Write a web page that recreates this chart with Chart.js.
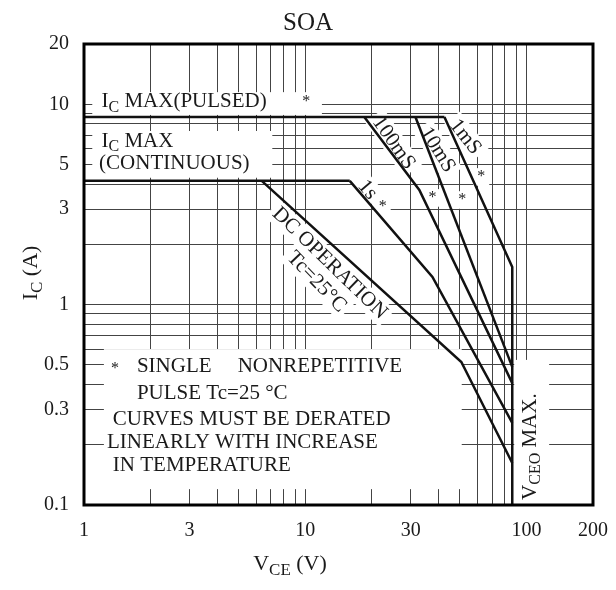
<!DOCTYPE html>
<html>
<head>
<meta charset="utf-8">
<script src="https://cdn.jsdelivr.net/npm/chart.js@4.4.0/dist/chart.umd.min.js"></script>
<style>
  html, body { margin: 0; padding: 0; background: #fff; }
</style>
</head>
<body>
<canvas id="soaChart" width="616" height="590"></canvas>
<script>
// grid and tick labels (log-log)
const xGrid = [1, 2, 3, 4, 5, 6, 7, 8, 9, 10, 20, 30, 40, 50, 60, 70, 80, 90, 100, 200];
const xLabels = [1, 3, 10, 30, 100, 200];
const yGrid = [0.1, 0.2, 0.3, 0.4, 0.5, 0.6, 0.7, 0.8, 0.9, 1, 2, 3, 4, 5, 6, 7, 8, 9, 10, 20];
const yLabels = [0.1, 0.3, 0.5, 1, 3, 5, 10, 20];

// SOA boundaries, VCE (V) / IC (A)
const icPulsedV = [1, 42.6];
const icPulsedA = [8.65, 8.65];
const icContV = [1, 15.9];
const icContA = [4.15, 4.15];
const dcV = [6.36, 50.8, 86.3];
const dcA = [4.15, 0.517, 0.162];
const s1V = [15.9, 37.6, 86.3];
const s1A = [4.15, 1.375, 0.257];
const ms100V = [18.5, 32.8, 86.3];
const ms100A = [8.65, 3.74, 0.406];
const ms10V = [31.5, 86.3];
const ms10A = [8.65, 0.489];
const ms1V = [42.6, 86.3, 86.3];
const ms1A = [8.65, 1.54, 0.1];

const FONT = '"Liberation Serif", "Times New Roman", serif';
const INK = "#1a1a1a";

const toPts = (xs, ys) => xs.map((x, i) => ({ x: x, y: ys[i] }));
const curve = (xs, ys) => ({
  data: toPts(xs, ys),
  borderColor: "#111",
  borderWidth: 2.5,
  pointRadius: 0,
  fill: false,
  tension: 0,
});

// text drawn with optional subscripts: parts = [[text, isSub], ...]
function richWidth(ctx, parts, size) {
  let w = 0;
  parts.forEach(([t, sub]) => {
    ctx.font = (sub ? Math.round(size * 0.75) : size) + "px " + FONT;
    w += ctx.measureText(t).width;
  });
  return w;
}
function drawRich(ctx, parts, x, y, size, align) {
  const total = richWidth(ctx, parts, size);
  let cx = align === "center" ? x - total / 2 : x;
  ctx.textBaseline = "middle";
  ctx.textAlign = "left";
  ctx.fillStyle = INK;
  parts.forEach(([t, sub]) => {
    ctx.font = (sub ? Math.round(size * 0.75) : size) + "px " + FONT;
    ctx.fillText(t, cx, y + (sub ? size * 0.28 : 0));
    cx += ctx.measureText(t).width;
  });
}

// labels inside the plot, anchored in data coordinates
const notes = [
  { parts: [["I"], ["C", 1], [" MAX(PULSED)"]], x: 1.2, y: 10.3 },
  { parts: [["*"]], x: 10.1, y: 10.3, size: 16, align: "center" },
  { parts: [["I"], ["C", 1], [" MAX"]], x: 1.2, y: 6.56 },
  { parts: [["(CONTINUOUS)"]], x: 1.17, y: 5.04 },
  { parts: [["*"]], x: 1.38, y: 0.478, size: 16, align: "center" },
  { parts: [["SINGLE"]], x: 1.735, y: 0.489 },
  { parts: [["NONREPETITIVE"]], x: 4.95, y: 0.489 },
  { parts: [["PULSE Tc=25 °C"]], x: 1.735, y: 0.36 },
  { parts: [["CURVES MUST BE DERATED"]], x: 1.35, y: 0.268 },
  { parts: [["LINEARLY WITH INCREASE"]], x: 1.27, y: 0.206 },
  { parts: [["IN TEMPERATURE"]], x: 1.35, y: 0.157 },
  { parts: [["100mS"]], x: 25.1, y: 6.41, rot: 55, bg: true },
  { parts: [["10mS"]], x: 39.6, y: 5.92, rot: 58, bg: true },
  { parts: [["1mS"]], x: 52.9, y: 6.87, rot: 52, bg: true },
  { parts: [["1s"]], x: 19.1, y: 3.74, rot: 50, bg: true },
  { parts: [["*"]], x: 22.4, y: 3.07, size: 16, align: "center", bg: true },
  { parts: [["*"]], x: 37.6, y: 3.41, size: 16, align: "center", bg: true },
  { parts: [["*"]], x: 51.3, y: 3.33, size: 16, align: "center", bg: true },
  { parts: [["*"]], x: 62.5, y: 4.34, size: 16, align: "center", bg: true },
  { parts: [["DC OPERATION"]], x: 12.9, y: 1.61, rot: 44, bg: true },
  { parts: [["Tc=25°C"]], x: 11.26, y: 1.3, rot: 46, bg: true },
  { parts: [["V"], ["CEO", 1], [" MAX."]], x: 104, y: 0.106, rot: -90, align: "left" },
];

// white areas where the grid is interrupted [x1, x2, y1, y2]
const blanks = [
  [1.09, 11.9, 11.5, 8.85],
  [1.09, 7.1, 7.36, 4.3],
  [1.23, 51, 0.6, 0.12],
  [88.1, 126.7, 0.53, 0.1],
];

const soaDecor = {
  id: "soaDecor",
  beforeDatasetsDraw(chart) {
    const { ctx, scales: { x, y } } = chart;
    ctx.save();
    ctx.fillStyle = "#fff";
    blanks.forEach(([x1, x2, y1, y2]) => {
      const l = x.getPixelForValue(x1), r = x.getPixelForValue(x2);
      const t = y.getPixelForValue(y1), b = y.getPixelForValue(y2);
      ctx.fillRect(l, t, r - l, b - t);
    });
    notes.filter((n) => n.bg).forEach((n) => {
      const size = n.size || 21;
      const w = richWidth(ctx, n.parts, size);
      ctx.save();
      ctx.translate(x.getPixelForValue(n.x), y.getPixelForValue(n.y));
      ctx.rotate(((n.rot || 0) * Math.PI) / 180);
      ctx.fillStyle = "#fff";
      ctx.fillRect(-w / 2 - 4, -size * 0.55, w + 8, size * 1.1);
      ctx.restore();
    });
    ctx.restore();
  },
  afterDatasetsDraw(chart) {
    const { ctx, chartArea: a, scales: { x, y } } = chart;
    ctx.save();
    notes.forEach((n) => {
      const size = n.size || 21;
      const px = x.getPixelForValue(n.x), py = y.getPixelForValue(n.y);
      if (n.rot) {
        ctx.save();
        ctx.translate(px, py);
        ctx.rotate((n.rot * Math.PI) / 180);
        drawRich(ctx, n.parts, 0, 0, size, n.align || "center");
        ctx.restore();
      } else {
        drawRich(ctx, n.parts, px, py, size, n.align || "left");
      }
    });
    // frame
    ctx.strokeStyle = "#000";
    ctx.lineWidth = 3;
    ctx.strokeRect(a.left, a.top, a.right - a.left, a.bottom - a.top);
    // titles
    drawRich(ctx, [["SOA"]], 308, 23, 25, "center");
    drawRich(ctx, [["V"], ["CE", 1], [" (V)"]], 290, 564, 22, "center");
    ctx.save();
    ctx.translate(31, 273);
    ctx.rotate(-Math.PI / 2);
    drawRich(ctx, [["I"], ["C", 1], [" (A)"]], 0, 0, 22, "center");
    ctx.restore();
    ctx.restore();
  },
};

const ctx = document.getElementById("soaChart").getContext("2d");
new Chart(ctx, {
  type: "line",
  data: {
    datasets: [
      curve(icPulsedV, icPulsedA),
      curve(icContV, icContA),
      curve(dcV, dcA),
      curve(s1V, s1A),
      curve(ms100V, ms100A),
      curve(ms10V, ms10A),
      curve(ms1V, ms1A),
    ],
  },
  options: {
    responsive: false,
    animation: false,
    layout: { padding: { top: 44, right: 23, left: 0, bottom: 0 } },
    plugins: { legend: { display: false }, tooltip: { enabled: false } },
    scales: {
      x: {
        type: "logarithmic",
        min: 1,
        max: 200,
        afterBuildTicks: (s) => { s.ticks = xGrid.map((v) => ({ value: v })); },
        afterFit: (s) => { s.height = 85; s.paddingLeft = 0; s.paddingRight = 0; },
        grid: { color: "#444", lineWidth: 1, drawTicks: false },
        border: { display: false },
        ticks: {
          autoSkip: false,
          maxRotation: 0,
          padding: 14,
          color: INK,
          font: { family: FONT, size: 20 },
          callback: (v) => (xLabels.includes(v) ? String(v) : ""),
        },
      },
      y: {
        type: "logarithmic",
        min: 0.1,
        max: 20,
        afterBuildTicks: (s) => { s.ticks = yGrid.map((v) => ({ value: v })); },
        afterFit: (s) => { s.width = 84; s.paddingTop = 0; s.paddingBottom = 0; },
        grid: { color: "#444", lineWidth: 1, drawTicks: false },
        border: { display: false },
        ticks: {
          autoSkip: false,
          padding: 15,
          color: INK,
          font: { family: FONT, size: 20 },
          callback: (v) => (yLabels.includes(v) ? String(v) : ""),
        },
      },
    },
  },
  plugins: [soaDecor],
});
</script>
</body>
</html>
